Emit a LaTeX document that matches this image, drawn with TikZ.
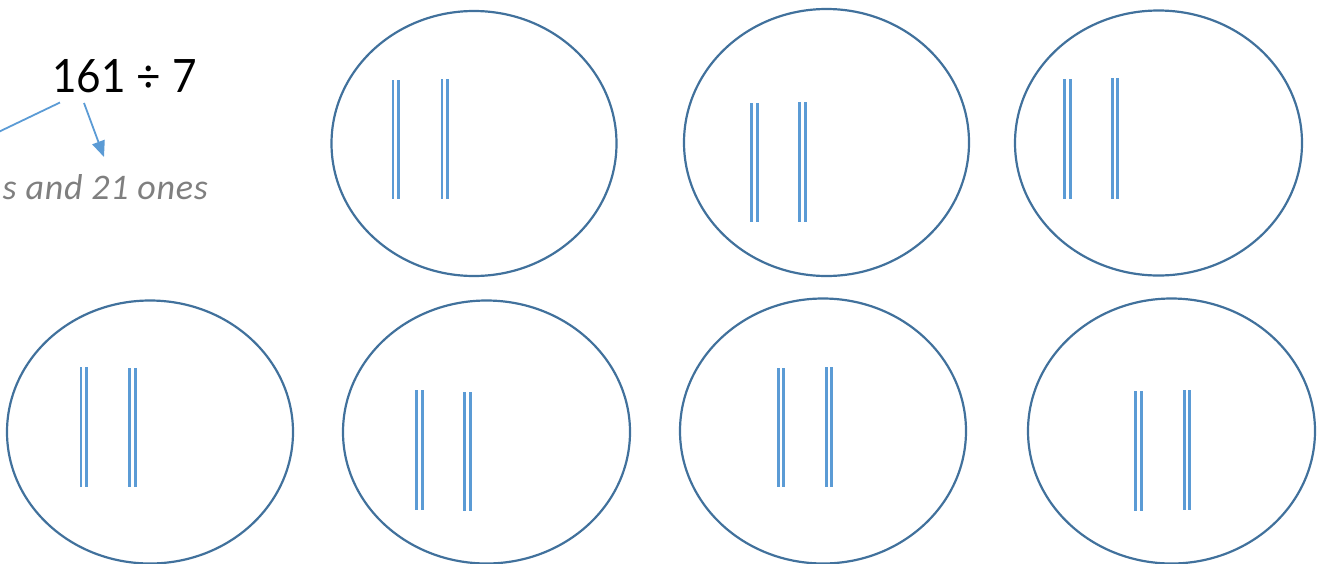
\documentclass[tikz,border=0pt]{standalone}
\usepackage{fontspec}
\setmainfont{Carlito}
\newfontfamily\titlefont{Lato}
\usetikzlibrary{shapes.geometric,arrows.meta}
\definecolor{ringblue}{HTML}{41719C}
\definecolor{stickblue}{HTML}{5B9BD5}
\definecolor{notegray}{HTML}{7F7F7F}
\tikzset{
  ring/.style={ellipse, draw=ringblue, line width=2.2pt, inner sep=0pt,
    minimum width=285pt, minimum height=265pt},
  bar/.style={draw=stickblue, line width=2.7pt},
  pointer/.style={draw=stickblue, line width=1.8pt},
}
\newcommand{\stickpair}[3]{%
  \draw[bar] ([xshift=-2.8pt]#1,#2) -- ([xshift=-2.8pt]#1,#3);
  \draw[bar] ([xshift=2.8pt]#1,#2) -- ([xshift=2.8pt]#1,#3);}
\begin{document}
\begin{tikzpicture}[x=1pt,y=-1pt]
\useasboundingbox (0,0) rectangle (1317,563);
\clip (0,0) rectangle (1317,563);
% title
\node[anchor=base, inner sep=0pt, font=\titlefont\fontsize{46}{50}\selectfont] (t) at (124.5,92) {\scalebox{0.92}[1]{161 ÷ 7}};
\node[anchor=base east, inner sep=0pt, text=notegray, font=\itshape\fontsize{36}{40}\selectfont\addfontfeature{LetterSpace=2}] (note) at (208,199) {14 tens and 21 ones};
\coordinate (s1) at (60,102.5);
\coordinate (f1) at (-60,160);
\coordinate (s2) at (84,103);
\coordinate (f2) at (104,157);
\draw[pointer] (s1) -- (f1);
\draw[pointer, -{Triangle[length=16pt,width=13pt]}] (s2) -- (f2);
% rings top
\node[ring] (r1) at (474,143.5) {};
\node[ring, minimum height=267pt] (r2) at (826.5,142.5) {};
\node[ring, minimum width=287pt] (r3) at (1158.5,143) {};
% rings bottom
\node[ring, minimum width=286pt, minimum height=263pt] (r4) at (150,432) {};
\node[ring, minimum width=287pt, minimum height=263pt] (r5) at (486.5,432) {};
\node[ring, minimum width=286pt, minimum height=265pt] (r6) at (823,431) {};
\node[ring, minimum width=287pt, minimum height=265pt] (r7) at (1171.5,431) {};
% sticks
\stickpair{395.8}{80}{199}
\stickpair{444.8}{79}{199}
\stickpair{754.5}{103}{222}
\stickpair{802.5}{102}{222}
\stickpair{1067.5}{79}{199}
\stickpair{1115}{78}{199}
\stickpair{83.8}{367}{487}
\stickpair{132.5}{368}{487}
\stickpair{419.5}{390}{510}
\stickpair{467.5}{392}{511}
\stickpair{781}{368}{487}
\stickpair{829}{367}{487}
\stickpair{1138.5}{391}{511}
\stickpair{1187}{390}{510}
\end{tikzpicture}
\end{document}
